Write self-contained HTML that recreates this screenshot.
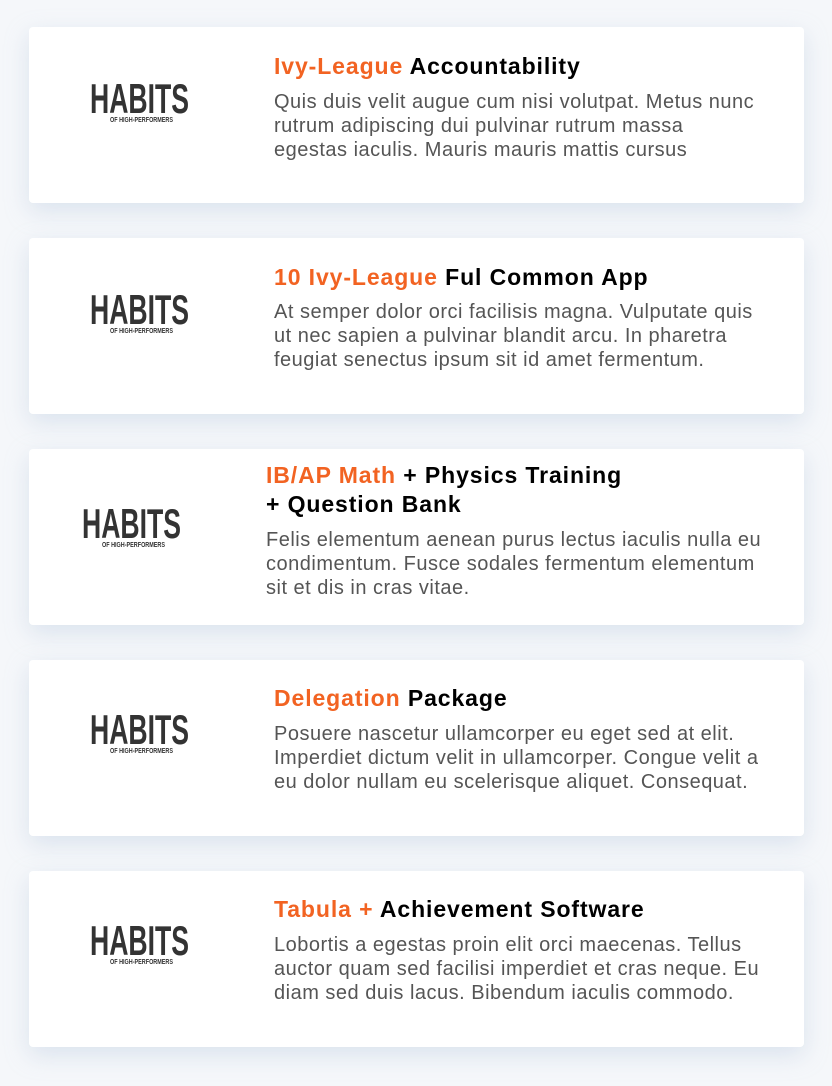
<!DOCTYPE html>
<html><head><meta charset="utf-8"><style>
body{margin:0;width:832px;height:1086px;background:#f5f7fa;position:relative;overflow:hidden;font-family:"Liberation Sans",sans-serif}
.card{position:absolute;left:29px;width:775px;height:176px;background:#fff;border-radius:4px;box-shadow:0 8px 24px rgba(170,190,215,0.35)}
.logo{position:absolute;top:0}
.t{position:absolute;font-weight:bold;font-size:23px;letter-spacing:0.9px;line-height:29px;color:#000;white-space:nowrap}
.t b{color:#f26322}
.d{position:absolute;font-size:20px;letter-spacing:0.5px;line-height:24px;color:#555;white-space:nowrap}
</style></head><body>

<div class="card" style="top:27px">
<svg class="logo" style="left:61px;top:52px" width="100" height="48"><text x="0" y="34" textLength="99" lengthAdjust="spacingAndGlyphs" font-family="Liberation Sans Narrow, Liberation Sans" font-weight="bold" font-size="42" fill="#333">HABITS</text><text x="20" y="43" textLength="63" lengthAdjust="spacingAndGlyphs" font-family="Liberation Sans Narrow, Liberation Sans" font-weight="bold" font-size="7" fill="#333">OF HIGH-PERFORMERS</text></svg>
<div class="t" style="left:245px;top:25px"><b>Ivy-League</b> Accountability</div>
<div class="d" style="left:245px;top:63px">Quis duis velit augue cum nisi volutpat. Metus nunc<br>rutrum adipiscing dui pulvinar rutrum massa<br>egestas iaculis. Mauris mauris mattis cursus</div>
</div>

<div class="card" style="top:238px">
<svg class="logo" style="left:61px;top:52px" width="100" height="48"><text x="0" y="34" textLength="99" lengthAdjust="spacingAndGlyphs" font-family="Liberation Sans Narrow, Liberation Sans" font-weight="bold" font-size="42" fill="#333">HABITS</text><text x="20" y="43" textLength="63" lengthAdjust="spacingAndGlyphs" font-family="Liberation Sans Narrow, Liberation Sans" font-weight="bold" font-size="7" fill="#333">OF HIGH-PERFORMERS</text></svg>
<div class="t" style="left:245px;top:25px"><b>10 Ivy-League</b> Ful Common App</div>
<div class="d" style="left:245px;top:62px">At semper dolor orci facilisis magna. Vulputate quis<br>ut nec sapien a pulvinar blandit arcu. In pharetra<br>feugiat senectus ipsum sit id amet fermentum.</div>
</div>

<div class="card" style="top:449px">
<svg class="logo" style="left:53px;top:55px" width="100" height="48"><text x="0" y="34" textLength="99" lengthAdjust="spacingAndGlyphs" font-family="Liberation Sans Narrow, Liberation Sans" font-weight="bold" font-size="42" fill="#333">HABITS</text><text x="20" y="43" textLength="63" lengthAdjust="spacingAndGlyphs" font-family="Liberation Sans Narrow, Liberation Sans" font-weight="bold" font-size="7" fill="#333">OF HIGH-PERFORMERS</text></svg>
<div class="t" style="left:237px;top:12px"><b>IB/AP Math</b> + Physics Training<br>+ Question Bank</div>
<div class="d" style="left:237px;top:79px">Felis elementum aenean purus lectus iaculis nulla eu<br>condimentum. Fusce sodales fermentum elementum<br>sit et dis in cras vitae.</div>
</div>

<div class="card" style="top:660px">
<svg class="logo" style="left:61px;top:50px" width="100" height="48"><text x="0" y="34" textLength="99" lengthAdjust="spacingAndGlyphs" font-family="Liberation Sans Narrow, Liberation Sans" font-weight="bold" font-size="42" fill="#333">HABITS</text><text x="20" y="43" textLength="63" lengthAdjust="spacingAndGlyphs" font-family="Liberation Sans Narrow, Liberation Sans" font-weight="bold" font-size="7" fill="#333">OF HIGH-PERFORMERS</text></svg>
<div class="t" style="left:245px;top:24px"><b>Delegation</b> Package</div>
<div class="d" style="left:245px;top:62px">Posuere nascetur ullamcorper eu eget sed at elit.<br>Imperdiet dictum velit in ullamcorper. Congue velit a<br>eu dolor nullam eu scelerisque aliquet. Consequat.</div>
</div>

<div class="card" style="top:871px">
<svg class="logo" style="left:61px;top:50px" width="100" height="48"><text x="0" y="34" textLength="99" lengthAdjust="spacingAndGlyphs" font-family="Liberation Sans Narrow, Liberation Sans" font-weight="bold" font-size="42" fill="#333">HABITS</text><text x="20" y="43" textLength="63" lengthAdjust="spacingAndGlyphs" font-family="Liberation Sans Narrow, Liberation Sans" font-weight="bold" font-size="7" fill="#333">OF HIGH-PERFORMERS</text></svg>
<div class="t" style="left:245px;top:24px"><b>Tabula +</b> Achievement Software</div>
<div class="d" style="left:245px;top:62px">Lobortis a egestas proin elit orci maecenas. Tellus<br>auctor quam sed facilisi imperdiet et cras neque. Eu<br>diam sed duis lacus. Bibendum iaculis commodo.</div>
</div>

</body></html>
